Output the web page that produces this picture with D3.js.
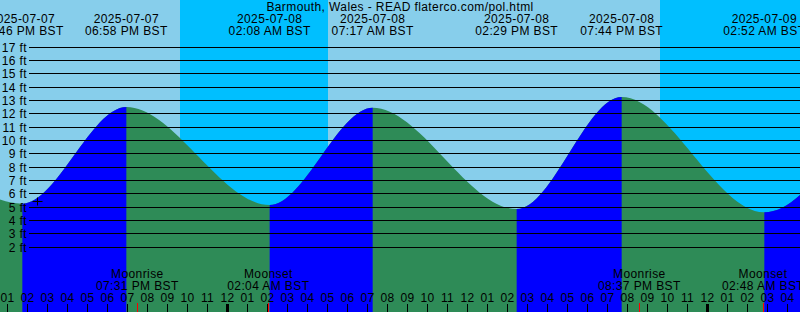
<!DOCTYPE html>
<html>
<head>
<meta charset="utf-8">
<script src="https://cdn.jsdelivr.net/npm/d3@7"></script>
<style>
  body { margin: 0; background: #fff; }
  svg { display: block; }
  text { font-family: "Liberation Sans", Arial, sans-serif; font-size: 12px; letter-spacing: 0.4px; fill: #000; }
</style>
</head>
<body>
<div id="chart"></div>
<script>
// Tide graph for Barmouth, Wales (XTide style)

var svgWidth = 800;
var svgHeight = 312;

var title = "Barmouth, Wales - READ flaterco.com/pol.html";

// chart window
var chartStart = "2025-07-07 12:39";
var chartEnd = "2025-07-09 04:39";

// tide extremes (first and last lie just outside the window)
var tideTimes = ["2025-07-07 07:25", "2025-07-07 13:46", "2025-07-07 18:58", "2025-07-08 02:08",
    "2025-07-08 07:17", "2025-07-08 14:29", "2025-07-08 19:44", "2025-07-09 02:52", "2025-07-09 08:10"];
var tideHeights = [12.3, 5.25, 12.5, 5.15, 12.45, 4.85, 13.25, 4.6, 13.2];
var tideTypes = ["high", "low", "high", "low", "high", "low", "high", "low", "high"];

// night = sunset to sunrise
var nightStarts = ["2025-07-07 21:39", "2025-07-08 21:39"];
var nightEnds = ["2025-07-08 05:03", "2025-07-09 05:04"];

// moon events
var moonTimes = ["2025-07-07 19:31", "2025-07-08 02:04", "2025-07-08 20:37", "2025-07-09 02:48"];
var moonEvents = ["Moonrise", "Moonset", "Moonrise", "Moonset"];

// current time marker
var nowTime = "2025-07-07 14:30";
var nowHeight = 5.45;

// height gridlines (ft)
var heightTicks = [2, 3, 4, 5, 6, 7, 8, 9, 10, 11, 12, 13, 14, 15, 16, 17];

var parseTime = d3.timeParse("%Y-%m-%d %H:%M");
var fmtDate = d3.timeFormat("%Y-%m-%d");
var fmtClock = d3.timeFormat("%I:%M %p");

var tides = tideTimes.map(function (t, i) {
    return { time: parseTime(t), height: tideHeights[i], type: tideTypes[i] };
});

var svg = d3.select("#chart")
    .append("svg")
    .attr("width", svgWidth)
    .attr("height", svgHeight);

// Step 1: scales
// ==============================
var xTimeScale = d3.scaleTime()
    .domain([parseTime(chartStart), parseTime(chartEnd)])
    .range([0, svgWidth]);

var yLinearScale = d3.scaleLinear()
    .domain([0, 17])
    .range([273.67, 47]);

// Step 2: day / night background
// ==============================
svg.append("rect")
    .attr("width", svgWidth)
    .attr("height", svgHeight)
    .attr("fill", "#87CEEB");

svg.selectAll(".night")
    .data(nightStarts)
    .enter()
    .append("rect")
    .attr("class", "night")
    .attr("x", d => Math.round(xTimeScale(parseTime(d))))
    .attr("width", (d, i) => Math.round(xTimeScale(parseTime(nightEnds[i]))) - Math.round(xTimeScale(parseTime(d))))
    .attr("y", 0)
    .attr("height", svgHeight)
    .attr("fill", "#00BFFF")
    .attr("shape-rendering", "crispEdges");

// Step 3: tide curve - green falling, blue rising
// ==============================
var tideArea = d3.area()
    .x(d => xTimeScale(d.time))
    .y0(svgHeight)
    .y1(d => yLinearScale(d.height))
    .curve(d3.curveMonotoneX);

svg.append("path")
    .datum(tides)
    .attr("d", tideArea)
    .attr("fill", "#2E8B57");

var rising = tides.filter((d, i) => d.type === "low" && i < tides.length - 1)
    .map(d => [d.time, tides[tides.indexOf(d) + 1].time]);

svg.append("clipPath")
    .attr("id", "risingClip")
    .selectAll("rect")
    .data(rising)
    .enter()
    .append("rect")
    .attr("x", d => xTimeScale(d[0]))
    .attr("width", d => xTimeScale(d[1]) - xTimeScale(d[0]))
    .attr("y", 0)
    .attr("height", svgHeight);

svg.append("path")
    .datum(tides)
    .attr("d", tideArea)
    .attr("fill", "#0000FF")
    .attr("clip-path", "url(#risingClip)");

// Step 4: height gridlines and labels
// ==============================
svg.selectAll(".grid")
    .data(heightTicks)
    .enter()
    .append("rect")
    .attr("class", "grid")
    .attr("x", 29)
    .attr("width", svgWidth - 29)
    .attr("y", d => Math.floor(yLinearScale(d)))
    .attr("height", 1)
    .attr("fill", "#000")
    .attr("shape-rendering", "crispEdges");

svg.selectAll(".ftLabel")
    .data(heightTicks)
    .enter()
    .append("text")
    .attr("class", "ftLabel")
    .attr("x", 27)
    .attr("y", d => Math.floor(yLinearScale(d)) + 5)
    .attr("text-anchor", "end")
    .text(d => d + " ft");

// Step 5: title and tide extreme labels
// ==============================
svg.append("text")
    .attr("x", svgWidth / 2)
    .attr("y", 11)
    .attr("text-anchor", "middle")
    .text(title);

var domain = xTimeScale.domain();
var shown = tides.filter(d => d.time >= domain[0] && d.time <= domain[1]);

svg.selectAll(".tideDate")
    .data(shown)
    .enter()
    .append("text")
    .attr("x", d => xTimeScale(d.time))
    .attr("y", 23)
    .attr("text-anchor", "middle")
    .text(d => fmtDate(d.time));

svg.selectAll(".tideClock")
    .data(shown)
    .enter()
    .append("text")
    .attr("x", d => xTimeScale(d.time))
    .attr("y", 35)
    .attr("text-anchor", "middle")
    .text(d => fmtClock(d.time) + " BST");

// Step 6: moon events
// ==============================
svg.selectAll(".moonName")
    .data(moonTimes)
    .enter()
    .append("text")
    .attr("x", d => xTimeScale(parseTime(d)))
    .attr("y", 278)
    .attr("text-anchor", "middle")
    .text((d, i) => moonEvents[i]);

svg.selectAll(".moonClock")
    .data(moonTimes)
    .enter()
    .append("text")
    .attr("x", d => xTimeScale(parseTime(d)))
    .attr("y", 290)
    .attr("text-anchor", "middle")
    .text(d => fmtClock(parseTime(d)) + " BST");

// Step 7: hour axis along the bottom
// ==============================
var hourAxis = d3.axisTop(xTimeScale)
    .ticks(d3.timeHour.every(1))
    .tickSize(8)
    .tickPadding(2)
    .tickFormat(d3.timeFormat("%I"));

var axisGroup = svg.append("g")
    .attr("transform", `translate(0, ${svgHeight})`)
    .call(hourAxis);

axisGroup.select(".domain").remove();
axisGroup.attr("font-family", null).attr("font-size", null);
axisGroup.selectAll(".tick")
    .attr("transform", d => `translate(${Math.round(xTimeScale(d)) + 0.5},0)`);
axisGroup.selectAll(".tick line")
    .attr("stroke", "#000")
    .attr("stroke-width", d => d.getHours() === 0 ? 3 : 1);
axisGroup.selectAll(".tick text")
    .attr("fill", "#000");

svg.selectAll(".moonTick")
    .data(moonTimes)
    .enter()
    .append("line")
    .attr("x1", d => Math.round(xTimeScale(parseTime(d))) + 0.5)
    .attr("x2", d => Math.round(xTimeScale(parseTime(d))) + 0.5)
    .attr("y1", 303)
    .attr("y2", svgHeight)
    .attr("stroke", "#FF0000");

// Step 8: current time marker
// ==============================
var nx = Math.round(xTimeScale(parseTime(nowTime))) + 0.5;
var ny = Math.round(yLinearScale(nowHeight)) + 0.5;
svg.append("path")
    .attr("d", `M${nx - 5},${ny}H${nx + 5}M${nx},${ny - 4}V${ny + 4}`)
    .attr("stroke", "#000")
    .attr("stroke-width", 1)
    .attr("fill", "none");
</script>
</body>
</html>
